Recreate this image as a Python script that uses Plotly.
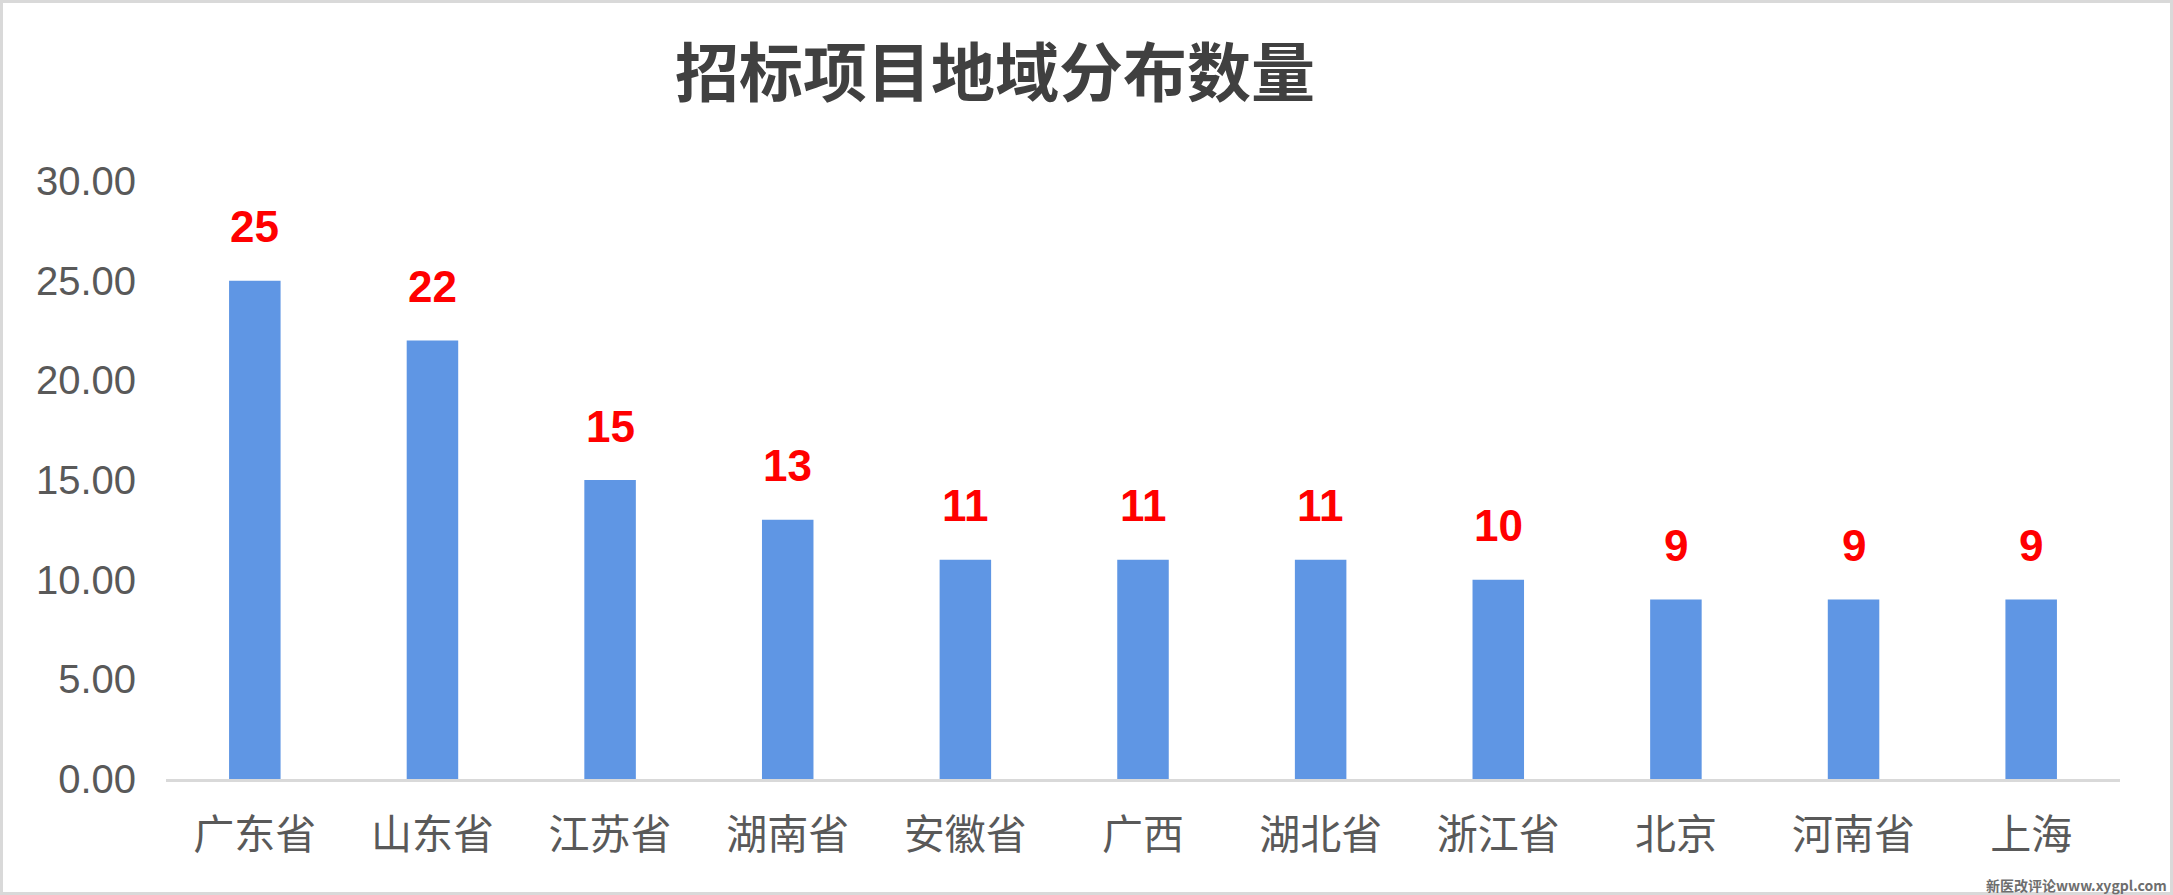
import plotly.graph_objects as go

# data
regions = ["广东省", "山东省", "江苏省", "湖南省", "安徽省", "广西",
           "湖北省", "浙江省", "北京", "河南省", "上海"]
counts = [25, 22, 15, 13, 11, 11, 11, 10, 9, 9, 9]
y_ticks = [0, 5, 10, 15, 20, 25, 30]

W, H = 2173, 895
M_L, M_R, M_T, M_B = 166, 53, 181, 116
plot_w = W - M_L - M_R
plot_h = H - M_T - M_B

FONT = "Liberation Sans, Arial, Noto Sans CJK SC, sans-serif"
CJK = "Noto Sans CJK SC, Liberation Sans, sans-serif"

fig = go.Figure()
fig.add_trace(go.Bar(
    x=regions,
    y=counts,
    width=0.29,
    marker=dict(color="#5F96E4", line=dict(width=0)),
    hoverinfo="x+y",
))

# red value labels floating above each bar
for reg, val in zip(regions, counts):
    fig.add_annotation(
        x=reg, y=val,
        text=f"<b>{val}</b>",
        showarrow=False,
        yanchor="middle",
        yshift=54,
        font=dict(family=FONT, size=44, color="#FF0000"),
    )

fig.update_layout(
    width=W,
    height=H,
    margin=dict(l=M_L, r=M_R, t=M_T, b=M_B, pad=0),
    paper_bgcolor="white",
    plot_bgcolor="white",
    showlegend=False,
    font=dict(family=FONT, color="#595959"),
    title=dict(
        text="<b>招标项目地域分布数量</b>",
        font=dict(family=CJK, size=64, color="#404040"),
        x=995 / W, xanchor="center",
        y=1 - 74 / H, yanchor="middle",
        xref="container", yref="container",
    ),
    xaxis=dict(
        showgrid=False,
        showline=True,
        linecolor="#D9D9D9",
        linewidth=3,
        ticks="",
        tickfont=dict(family=CJK, size=41, color="#595959"),
        ticklabelstandoff=18,
        fixedrange=True,
    ),
    yaxis=dict(
        range=[0, 30],
        tickvals=y_ticks,
        tickformat=".2f",
        showgrid=False,
        zeroline=False,
        showline=False,
        ticks="",
        tickfont=dict(family=FONT, size=40, color="#595959"),
        ticklabelstandoff=29,
        fixedrange=True,
    ),
)

# watermark bottom right
fig.add_annotation(
    text="<b>新医改评论www.xygpl.com</b>",
    xref="paper", yref="paper",
    x=(W - 4 - M_L) / plot_w, y=-(885 - (M_T + plot_h)) / plot_h,
    xanchor="right", yanchor="middle",
    showarrow=False,
    font=dict(family="Noto Sans CJK SC, DejaVu Sans, sans-serif", size=14,
              color="#6E6E6E"),
)

# thin grey frame around the whole picture
fig.add_shape(
    type="rect",
    xref="paper", yref="paper",
    x0=-(M_L - 1.5) / plot_w, x1=(W - M_L - 1.5) / plot_w,
    y0=-(M_B - 1.5) / plot_h, y1=(H - M_B - 1.5) / plot_h,
    line=dict(color="#D9D9D9", width=3),
    layer="below",
)

fig.write_html("out.html", config={"displayModeBar": False},
               post_script="document.body.style.margin='0';")
